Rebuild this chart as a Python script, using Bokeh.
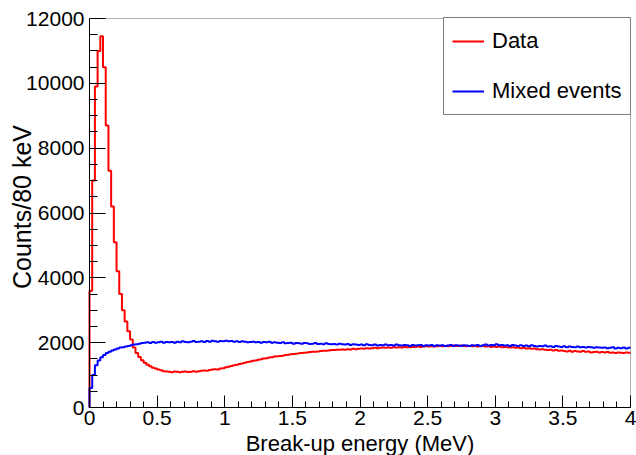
import numpy as np
from bokeh.plotting import figure
from bokeh.models import (Range1d, FixedTicker, CustomJSTickFormatter, Legend, LegendItem,
                          Label, BoxAnnotation)
from bokeh.embed import file_html
from bokeh.resources import INLINE

# ---------------- data ----------------
bin_width = 0.02  # MeV
x_min, x_max = 0.0, 4.0
y_min, y_max = 0.0, 12000.0

data_counts = [
    3600, 7000, 9900, 11000, 11450, 10500, 8700, 7300, 6200, 5100,
    4200, 3500, 3000, 2650, 2350, 2100, 1850, 1680, 1560, 1460,
    1380, 1320, 1270, 1230, 1200, 1170, 1150, 1120, 1110, 1100,
    1090, 1110, 1100, 1085, 1100, 1110, 1095, 1105, 1120, 1100,
    1120, 1130, 1140, 1135, 1160, 1170, 1180, 1175, 1200, 1210,
    1240, 1260, 1280, 1300, 1320, 1340, 1360, 1380, 1400, 1420,
    1440, 1450, 1470, 1490, 1510, 1520, 1540, 1550, 1570, 1580,
    1590, 1600, 1620, 1630, 1640, 1650, 1660, 1670, 1680, 1690,
    1700, 1710, 1720, 1720, 1730, 1740, 1750, 1750, 1760, 1770,
    1770, 1780, 1780, 1790, 1780, 1800, 1790, 1810, 1800, 1810,
    1820, 1810, 1830, 1820, 1830, 1840, 1830, 1840, 1850, 1840,
    1850, 1840, 1860, 1850, 1860, 1850, 1870, 1860, 1860, 1870,
    1870, 1880, 1870, 1880, 1890, 1880, 1890, 1880, 1890, 1900,
    1890, 1900, 1890, 1900, 1910, 1900, 1900, 1910, 1900, 1890,
    1900, 1890, 1900, 1880, 1890, 1900, 1880, 1890, 1870, 1880,
    1870, 1880, 1860, 1870, 1860, 1850, 1860, 1840, 1850, 1830,
    1840, 1820, 1830, 1810, 1820, 1800, 1790, 1800, 1780, 1770,
    1780, 1760, 1770, 1750, 1760, 1740, 1730, 1750, 1720, 1740,
    1730, 1720, 1740, 1720, 1730, 1700, 1710, 1720, 1700, 1710,
    1700, 1710, 1690, 1700, 1680, 1700, 1690, 1680, 1700, 1690,
]

mixed_counts = [
    600, 1000, 1300, 1450, 1550, 1620, 1680, 1720, 1760, 1790,
    1820, 1850, 1860, 1880, 1900, 1920, 1940, 1950, 1970, 1990,
    2000, 2010, 1990, 2020, 2000, 2010, 2030, 2000, 2020, 2010,
    2020, 2000, 2030, 2010, 2040, 2020, 2010, 2030, 2050, 2020,
    2030, 2040, 2020, 2050, 2030, 2060, 2040, 2030, 2050, 2040,
    2060, 2040, 2050, 2030, 2040, 2020, 2040, 2030, 2010, 2020,
    2030, 2010, 2020, 2000, 2020, 2010, 2030, 2000, 2010, 2000,
    1990, 2010, 1980, 1990, 2000, 1970, 1990, 1980, 1970, 1990,
    1980, 1960, 1970, 1990, 1960, 1970, 1950, 1980, 1960, 1950,
    1960, 1940, 1970, 1950, 1940, 1960, 1930, 1950, 1940, 1930,
    1940, 1920, 1950, 1930, 1920, 1940, 1910, 1930, 1920, 1940,
    1920, 1930, 1910, 1940, 1920, 1910, 1930, 1920, 1900, 1930,
    1910, 1920, 1930, 1900, 1920, 1910, 1930, 1900, 1920, 1910,
    1920, 1900, 1910, 1930, 1900, 1920, 1910, 1900, 1920, 1910,
    1900, 1920, 1910, 1930, 1900, 1920, 1940, 1910, 1930, 1920,
    1950, 1920, 1930, 1910, 1920, 1900, 1930, 1910, 1900, 1920,
    1900, 1910, 1890, 1920, 1900, 1880, 1900, 1890, 1910, 1880,
    1890, 1870, 1900, 1880, 1870, 1890, 1860, 1880, 1870, 1860,
    1880, 1860, 1870, 1850, 1870, 1860, 1840, 1860, 1850, 1840,
    1850, 1830, 1840, 1860, 1820, 1840, 1830, 1850, 1820, 1840,
]

x_ticks = [0, 0.5, 1, 1.5, 2, 2.5, 3, 3.5, 4]
y_ticks = [0, 2000, 4000, 6000, 8000, 10000, 12000]
series_names = ["Data", "Mixed events"]
x_title = "Break-up energy (MeV)"
y_title = "Counts/80 keV"

# ---------------- layout (pixels inside the canvas) ----------------
W, H = 636, 455
FRAME_L, FRAME_R = 89, 630      # canvas x of data x_min / x_max
FRAME_T, FRAME_B = 18, 407      # canvas y (from top) of y_max / y_min
sx = (FRAME_R - FRAME_L) / (x_max - x_min)
sy = (FRAME_B - FRAME_T) / (y_max - y_min)
xr = Range1d(x_min - FRAME_L / sx, x_max + (W - FRAME_R) / sx)
yr = Range1d(y_min - (H - FRAME_B) / sy, y_max + FRAME_T / sy)

FONT = "Liberation Sans"

p = figure(width=W, height=H, output_backend="svg", toolbar_location=None,
           x_range=xr, y_range=yr)
p.min_border = 0
p.min_border_left = p.min_border_right = p.min_border_top = p.min_border_bottom = 0
p.grid.visible = False
p.outline_line_color = None
p.background_fill_color = "white"
p.border_fill_color = "white"

edges = x_min + bin_width * np.arange(len(data_counts) + 1)


def step_arrays(vals):
    xs = np.concatenate([[edges[0]], edges])
    ys = np.concatenate([[0], vals, [vals[-1]]])
    return xs, ys


xd, yd = step_arrays(np.array(data_counts, dtype=float))
xm, ym = step_arrays(np.array(mixed_counts, dtype=float))

r_data = p.step(xd, yd, mode="after", line_color="#ff0000", line_width=2)
r_mix = p.step(xm, ym, mode="after", line_color="#0000ff", line_width=2)

# frame box
p.add_layout(BoxAnnotation(left=x_min, right=x_max, bottom=y_min, top=y_max,
                           fill_alpha=0, line_color="black", line_width=1))

# axes placed at the frame edges
minor_x = [round(0.1 * i, 2) for i in range(41) if i % 5 != 0]
minor_y = [500 * i for i in range(25) if i % 4 != 0]
p.xaxis.ticker = FixedTicker(ticks=x_ticks, minor_ticks=minor_x)
p.yaxis.ticker = FixedTicker(ticks=y_ticks, minor_ticks=minor_y)
p.xaxis.formatter = CustomJSTickFormatter(code="return String(tick);")
p.yaxis.formatter = CustomJSTickFormatter(code="return String(tick);")
p.xaxis.fixed_location = y_min
p.yaxis.fixed_location = x_min
p.xaxis.bounds = (x_min, x_max)
p.yaxis.bounds = (y_min, y_max)

for ax in (p.xaxis[0], p.yaxis[0]):
    ax.axis_line_color = "black"
    ax.axis_line_width = 1
    ax.major_tick_line_color = "black"
    ax.minor_tick_line_color = "black"
    ax.major_tick_out = 0
    ax.minor_tick_out = 0
    ax.major_label_text_font = FONT
    ax.major_label_text_font_size = "21px"
    ax.major_label_text_color = "black"

p.xaxis.major_label_standoff = 3
p.yaxis.major_label_standoff = 5
p.xaxis.major_tick_in = 12
p.xaxis.minor_tick_in = 6
p.yaxis.major_tick_in = 16
p.yaxis.minor_tick_in = 8

# axis titles (centre positions, in pixels from the frame)
p.add_layout(Label(x=(x_min + x_max) / 2, y=y_min - 36 / sy, text=x_title,
                   text_font=FONT, text_font_size="22px", text_align="center",
                   text_baseline="middle", text_color="black"))
p.add_layout(Label(x=x_min - 68 / sx, y=(y_min + y_max) / 2 + 6 / sy, text=y_title,
                   text_font=FONT, text_font_size="25px", text_align="center",
                   text_baseline="middle", angle=np.pi / 2, text_color="black"))

legend = Legend(items=[LegendItem(label=series_names[0], renderers=[r_data]),
                       LegendItem(label=series_names[1], renderers=[r_mix])],
                location=(FRAME_R - 187, H - FRAME_T - 97))
legend.margin = 0
legend.padding = 8
legend.spacing = 20
legend.label_height = 30
legend.glyph_height = 30
legend.glyph_width = 32
legend.label_standoff = 8
legend.label_text_font = FONT
legend.label_text_font_size = "22px"
legend.label_text_color = "black"
legend.border_line_color = "black"
legend.border_line_width = 1
legend.background_fill_color = "white"
legend.background_fill_alpha = 1.0
p.add_layout(legend, "center")

open("out.html", "w").write(file_html(p, INLINE))
